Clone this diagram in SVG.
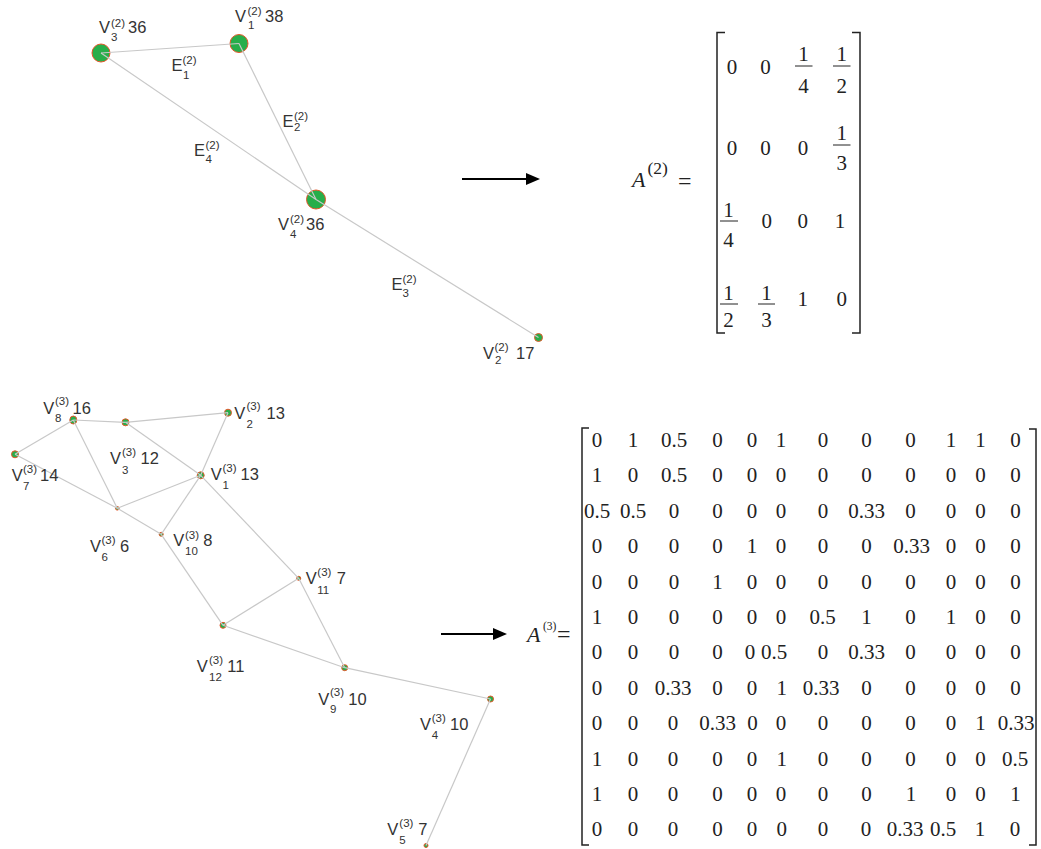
<svg xmlns="http://www.w3.org/2000/svg" width="1041" height="849" viewBox="0 0 1041 849">
<style>
.lb{font-family:"Liberation Sans",Arial,sans-serif;font-size:16.5px;fill:#333}
.s{font-size:11.5px}
.ed{stroke:#c8c8c8;stroke-width:1.2;fill:none}
.nd{fill:#27ae4a;stroke:#e3572a;stroke-width:1}
.mx{font-family:"Liberation Serif","Times New Roman",serif;font-size:21px;fill:#222;text-anchor:middle}
.tm{font-family:"Liberation Serif","Times New Roman",serif;font-size:21px;fill:#222;text-anchor:middle}
.br{stroke:#222;stroke-width:1.5;fill:none}
.bar{stroke:#222;stroke-width:1}
.ar{stroke:#000;stroke-width:2}
.ser{font-family:"Liberation Serif","Times New Roman",serif;fill:#222}
</style>
<defs>
<marker id="ah" markerWidth="14" markerHeight="12" refX="0" refY="6" orient="auto" markerUnits="userSpaceOnUse"><path d="M0,0 L14,6 L0,12 Z" fill="#000"/></marker>
</defs>
<rect width="1041" height="849" fill="#fff"/>

<!-- top graph nodes -->
<g id="t-v3"><circle class="nd" cx="101" cy="53" r="9"/></g>
<g id="t-v1"><circle class="nd" cx="239" cy="43.5" r="9"/></g>
<g id="t-v4"><circle class="nd" cx="316" cy="199.5" r="9.5"/></g>
<g id="t-v2"><circle class="nd" cx="538.5" cy="337.5" r="4"/></g>

<g id="top-edges">
<line class="ed" x1="101" y1="53" x2="239" y2="43.5"/>
<line class="ed" x1="239" y1="43.5" x2="316" y2="199.5"/>
<line class="ed" x1="101" y1="53" x2="316" y2="199.5"/>
<line class="ed" x1="316" y1="199.5" x2="538.5" y2="337.5"/>
</g>

<g id="top-labels">
<text class="lb"><tspan x="99" y="33">V</tspan><tspan class="s" x="111" y="27">(2)</tspan><tspan class="s" x="111" y="41">3</tspan><tspan x="128" y="33">36</tspan></text>
<text class="lb"><tspan x="235" y="21.5">V</tspan><tspan class="s" x="247.5" y="15">(2)</tspan><tspan class="s" x="248" y="28.5">1</tspan><tspan x="265" y="21.5">38</tspan></text>
<text class="lb"><tspan x="171.5" y="71">E</tspan><tspan class="s" x="182.5" y="64">(2)</tspan><tspan class="s" x="183" y="78.5">1</tspan></text>
<text class="lb"><tspan x="282.5" y="126.5">E</tspan><tspan class="s" x="294" y="119.5">(2)</tspan><tspan class="s" x="294" y="131">2</tspan></text>
<text class="lb"><tspan x="194" y="156">E</tspan><tspan class="s" x="205.5" y="148.5">(2)</tspan><tspan class="s" x="205.5" y="163">4</tspan></text>
<text class="lb"><tspan x="278" y="229.5">V</tspan><tspan class="s" x="290" y="222.5">(2)</tspan><tspan class="s" x="290" y="237.5">4</tspan><tspan x="306" y="229.5">36</tspan></text>
<text class="lb"><tspan x="391.5" y="290">E</tspan><tspan class="s" x="402.5" y="283">(2)</tspan><tspan class="s" x="402.5" y="297">3</tspan></text>
<text class="lb"><tspan x="483" y="358.5">V</tspan><tspan class="s" x="494.5" y="350.5">(2)</tspan><tspan class="s" x="495" y="363.5">2</tspan><tspan x="516" y="358.5">17</tspan></text>
</g>

<!-- arrows -->
<g id="arrows">
<line class="ar" x1="462" y1="179" x2="526" y2="179" marker-end="url(#ah)"/>
<line class="ar" x1="441" y1="634" x2="493" y2="634" marker-end="url(#ah)"/>
</g>

<!-- top matrix -->
<g id="matrix-a2">
<text class="ser" font-size="22" font-style="italic" x="632" y="187">A</text>
<text class="ser" font-size="17.5" x="647.5" y="174">(2)</text>
<text class="ser" font-size="24" x="678" y="189">=</text>
<path class="br" d="M725,32.5 H717 V333 H725"/>
<path class="br" d="M852,32.5 H860 V333 H852"/>
<text class="tm"><tspan x="732" y="73.5">0</tspan><tspan x="765.5" y="73.5">0</tspan><tspan x="803.5" y="60.5">1</tspan><tspan x="803.5" y="93">4</tspan><tspan x="841.7" y="60.5">1</tspan><tspan x="841.7" y="93">2</tspan></text>
<line class="bar" x1="795" y1="66" x2="812.5" y2="66"/>
<line class="bar" x1="833" y1="66" x2="850.5" y2="66"/>
<text class="tm"><tspan x="732" y="155">0</tspan><tspan x="765.5" y="155">0</tspan><tspan x="803" y="155">0</tspan><tspan x="841.7" y="140">1</tspan><tspan x="841.7" y="170">3</tspan></text>
<line class="bar" x1="833" y1="145" x2="850.5" y2="145"/>
<text class="tm"><tspan x="728.5" y="216.5">1</tspan><tspan x="728.5" y="247">4</tspan><tspan x="766.7" y="228.3">0</tspan><tspan x="802.7" y="228.3">0</tspan><tspan x="840" y="228.3">1</tspan></text>
<line class="bar" x1="720" y1="221" x2="738" y2="221"/>
<text class="tm"><tspan x="728.5" y="299.5">1</tspan><tspan x="728.5" y="327">2</tspan><tspan x="766.5" y="299.5">1</tspan><tspan x="766.5" y="327">3</tspan><tspan x="802.7" y="305.5">1</tspan><tspan x="841.7" y="305.5">0</tspan></text>
<line class="bar" x1="720" y1="304" x2="738" y2="304"/>
<line class="bar" x1="758" y1="304" x2="775" y2="304"/>
</g>

<!-- bottom graph nodes -->
<g id="b-v8"><ellipse class="nd" cx="73.3" cy="420" rx="3.5" ry="4"/></g>
<g id="b-v3"><circle class="nd" cx="125.5" cy="422.3" r="3.5"/></g>
<g id="b-v2"><circle class="nd" cx="228" cy="412.7" r="3.5"/></g>
<g id="b-v7"><circle class="nd" cx="15" cy="454.3" r="3.5"/></g>
<g id="b-v1"><circle class="nd" cx="200.7" cy="475.3" r="3.5"/></g>
<g id="b-v6"><circle class="nd" cx="117.3" cy="508.3" r="1.8"/></g>
<g id="b-v10"><circle class="nd" cx="161.2" cy="534.3" r="2"/></g>
<g id="b-v11"><circle class="nd" cx="298.7" cy="578.3" r="2"/></g>
<g id="b-v12"><circle class="nd" cx="223" cy="625.3" r="3"/></g>
<g id="b-v9"><circle class="nd" cx="344.7" cy="667.7" r="3"/></g>
<g id="b-v4"><circle class="nd" cx="490.5" cy="699" r="3"/></g>
<g id="b-v5"><circle class="nd" cx="426" cy="845.5" r="2"/></g>

<g id="bottom-edges">
<line class="ed" x1="73.3" y1="420" x2="125.5" y2="422.3"/>
<line class="ed" x1="125.5" y1="422.3" x2="228" y2="412.7"/>
<line class="ed" x1="73.3" y1="420" x2="15" y2="454.3"/>
<line class="ed" x1="73.3" y1="420" x2="117.3" y2="508.3"/>
<line class="ed" x1="125.5" y1="422.3" x2="200.7" y2="475.3"/>
<line class="ed" x1="228" y1="412.7" x2="200.7" y2="475.3"/>
<line class="ed" x1="15" y1="454.3" x2="117.3" y2="508.3"/>
<line class="ed" x1="117.3" y1="508.3" x2="161.2" y2="534.3"/>
<line class="ed" x1="117.3" y1="508.3" x2="200.7" y2="475.3"/>
<line class="ed" x1="161.2" y1="534.3" x2="200.7" y2="475.3"/>
<line class="ed" x1="200.7" y1="475.3" x2="298.7" y2="578.3"/>
<line class="ed" x1="161.2" y1="534.3" x2="223" y2="625.3"/>
<line class="ed" x1="223" y1="625.3" x2="298.7" y2="578.3"/>
<line class="ed" x1="298.7" y1="578.3" x2="344.7" y2="667.7"/>
<line class="ed" x1="223" y1="625.3" x2="344.7" y2="667.7"/>
<line class="ed" x1="344.7" y1="667.7" x2="490.5" y2="699"/>
<line class="ed" x1="490.5" y1="699" x2="426" y2="845.5"/>
</g>

<g id="bottom-labels">
<text class="lb"><tspan x="43.3" y="413.5">V</tspan><tspan class="s" x="55" y="405">(3)</tspan><tspan class="s" x="55" y="422">8</tspan><tspan x="72.5" y="413.5">16</tspan></text>
<text class="lb"><tspan x="234.3" y="418.5">V</tspan><tspan class="s" x="246.5" y="410">(3)</tspan><tspan class="s" x="246.5" y="427.5">2</tspan><tspan x="266.5" y="418.5">13</tspan></text>
<text class="lb"><tspan x="110" y="464">V</tspan><tspan class="s" x="122" y="456">(3)</tspan><tspan class="s" x="122" y="473.5">3</tspan><tspan x="140.5" y="464">12</tspan></text>
<text class="lb"><tspan x="11.7" y="481">V</tspan><tspan class="s" x="23" y="473">(3)</tspan><tspan class="s" x="23" y="490">7</tspan><tspan x="40" y="481">14</tspan></text>
<text class="lb"><tspan x="210.7" y="480">V</tspan><tspan class="s" x="222.5" y="472">(3)</tspan><tspan class="s" x="222.5" y="488.5">1</tspan><tspan x="240.5" y="480">13</tspan></text>
<text class="lb"><tspan x="90" y="552">V</tspan><tspan class="s" x="101.5" y="543.5">(3)</tspan><tspan class="s" x="101.5" y="561">6</tspan><tspan x="120" y="552">6</tspan></text>
<text class="lb"><tspan x="173.3" y="546">V</tspan><tspan class="s" x="185" y="538.5">(3)</tspan><tspan class="s" x="185" y="555">10</tspan><tspan x="203.3" y="546">8</tspan></text>
<text class="lb"><tspan x="305.7" y="584">V</tspan><tspan class="s" x="317.3" y="576">(3)</tspan><tspan class="s" x="317.3" y="593.5">11</tspan><tspan x="336.7" y="584">7</tspan></text>
<text class="lb"><tspan x="196.7" y="672">V</tspan><tspan class="s" x="209" y="663.5">(3)</tspan><tspan class="s" x="209" y="681">12</tspan><tspan x="227.3" y="672">11</tspan></text>
<text class="lb"><tspan x="318.3" y="704.5">V</tspan><tspan class="s" x="330" y="696">(3)</tspan><tspan class="s" x="330" y="713">9</tspan><tspan x="348.3" y="704.5">10</tspan></text>
<text class="lb"><tspan x="420" y="730">V</tspan><tspan class="s" x="431.7" y="722">(3)</tspan><tspan class="s" x="431.7" y="738.5">4</tspan><tspan x="450" y="730">10</tspan></text>
<text class="lb"><tspan x="387.3" y="835">V</tspan><tspan class="s" x="399.3" y="827">(3)</tspan><tspan class="s" x="399.3" y="843.5">5</tspan><tspan x="418.3" y="835">7</tspan></text>
</g>

<!-- bottom matrix -->
<g id="matrix-a3">
<text class="ser" font-size="22" font-style="italic" x="527" y="642">A</text>
<text class="ser" font-size="11.5" x="543" y="630">(3)</text>
<text class="ser" font-size="24" x="557" y="642">=</text>
<path class="br" d="M589,428 H582 V845 H589"/>
<path class="br" d="M1029,429 H1036 V845 H1029"/>
<text class="mx"><tspan x="597" y="447">0</tspan><tspan x="633" y="447">1</tspan><tspan x="674" y="447">0.5</tspan><tspan x="717.5" y="447">0</tspan><tspan x="752" y="447">0</tspan><tspan x="781" y="447">1</tspan><tspan x="823" y="447">0</tspan><tspan x="866.5" y="447">0</tspan><tspan x="910.5" y="447">0</tspan><tspan x="951" y="447">1</tspan><tspan x="980.5" y="447">1</tspan><tspan x="1015.5" y="447">0</tspan></text>
<text class="mx"><tspan x="597" y="482.4">1</tspan><tspan x="633" y="482.4">0</tspan><tspan x="674" y="482.4">0.5</tspan><tspan x="717.5" y="482.4">0</tspan><tspan x="752" y="482.4">0</tspan><tspan x="781" y="482.4">0</tspan><tspan x="823" y="482.4">0</tspan><tspan x="866.5" y="482.4">0</tspan><tspan x="910.5" y="482.4">0</tspan><tspan x="951" y="482.4">0</tspan><tspan x="980.5" y="482.4">0</tspan><tspan x="1015.5" y="482.4">0</tspan></text>
<text class="mx"><tspan x="597" y="517.8">0.5</tspan><tspan x="633" y="517.8">0.5</tspan><tspan x="674" y="517.8">0</tspan><tspan x="717.5" y="517.8">0</tspan><tspan x="752" y="517.8">0</tspan><tspan x="781" y="517.8">0</tspan><tspan x="823" y="517.8">0</tspan><tspan x="866.7" y="517.8">0.33</tspan><tspan x="910.5" y="517.8">0</tspan><tspan x="951" y="517.8">0</tspan><tspan x="980.5" y="517.8">0</tspan><tspan x="1015.5" y="517.8">0</tspan></text>
<text class="mx"><tspan x="597" y="553.2">0</tspan><tspan x="633" y="553.2">0</tspan><tspan x="674" y="553.2">0</tspan><tspan x="717.5" y="553.2">0</tspan><tspan x="752" y="553.2">1</tspan><tspan x="781" y="553.2">0</tspan><tspan x="823" y="553.2">0</tspan><tspan x="866.5" y="553.2">0</tspan><tspan x="911.7" y="553.2">0.33</tspan><tspan x="951" y="553.2">0</tspan><tspan x="980.5" y="553.2">0</tspan><tspan x="1015.5" y="553.2">0</tspan></text>
<text class="mx"><tspan x="597" y="588.6">0</tspan><tspan x="633" y="588.6">0</tspan><tspan x="674" y="588.6">0</tspan><tspan x="717.5" y="588.6">1</tspan><tspan x="752" y="588.6">0</tspan><tspan x="781" y="588.6">0</tspan><tspan x="823" y="588.6">0</tspan><tspan x="866.5" y="588.6">0</tspan><tspan x="910.5" y="588.6">0</tspan><tspan x="951" y="588.6">0</tspan><tspan x="980.5" y="588.6">0</tspan><tspan x="1015.5" y="588.6">0</tspan></text>
<text class="mx"><tspan x="597" y="624">1</tspan><tspan x="633" y="624">0</tspan><tspan x="674" y="624">0</tspan><tspan x="717.5" y="624">0</tspan><tspan x="752" y="624">0</tspan><tspan x="781" y="624">0</tspan><tspan x="822.7" y="624">0.5</tspan><tspan x="866.5" y="624">1</tspan><tspan x="910.5" y="624">0</tspan><tspan x="951" y="624">1</tspan><tspan x="980.5" y="624">0</tspan><tspan x="1015.5" y="624">0</tspan></text>
<text class="mx"><tspan x="597" y="659.4">0</tspan><tspan x="633" y="659.4">0</tspan><tspan x="674" y="659.4">0</tspan><tspan x="717.5" y="659.4">0</tspan><tspan x="750" y="659.4">0</tspan><tspan x="774" y="659.4">0.5</tspan><tspan x="823" y="659.4">0</tspan><tspan x="866.7" y="659.4">0.33</tspan><tspan x="910.5" y="659.4">0</tspan><tspan x="951" y="659.4">0</tspan><tspan x="980.5" y="659.4">0</tspan><tspan x="1015.5" y="659.4">0</tspan></text>
<text class="mx"><tspan x="597" y="694.8">0</tspan><tspan x="633" y="694.8">0</tspan><tspan x="673" y="694.8">0.33</tspan><tspan x="717.5" y="694.8">0</tspan><tspan x="752" y="694.8">0</tspan><tspan x="781.7" y="694.8">1</tspan><tspan x="821" y="694.8">0.33</tspan><tspan x="866.5" y="694.8">0</tspan><tspan x="910.5" y="694.8">0</tspan><tspan x="951" y="694.8">0</tspan><tspan x="980.5" y="694.8">0</tspan><tspan x="1015.5" y="694.8">0</tspan></text>
<text class="mx"><tspan x="597" y="730.2">0</tspan><tspan x="633" y="730.2">0</tspan><tspan x="673" y="730.2">0</tspan><tspan x="717.7" y="730.2">0.33</tspan><tspan x="752.5" y="730.2">0</tspan><tspan x="781" y="730.2">0</tspan><tspan x="823" y="730.2">0</tspan><tspan x="866.5" y="730.2">0</tspan><tspan x="910.5" y="730.2">0</tspan><tspan x="951" y="730.2">0</tspan><tspan x="980.5" y="730.2">1</tspan><tspan x="1016" y="730.2">0.33</tspan></text>
<text class="mx"><tspan x="597" y="765.6">1</tspan><tspan x="633" y="765.6">0</tspan><tspan x="673" y="765.6">0</tspan><tspan x="717.5" y="765.6">0</tspan><tspan x="752" y="765.6">0</tspan><tspan x="781.7" y="765.6">1</tspan><tspan x="823" y="765.6">0</tspan><tspan x="866.5" y="765.6">0</tspan><tspan x="910.5" y="765.6">0</tspan><tspan x="951" y="765.6">0</tspan><tspan x="980.5" y="765.6">0</tspan><tspan x="1015" y="765.6">0.5</tspan></text>
<text class="mx"><tspan x="597" y="801">1</tspan><tspan x="633" y="801">0</tspan><tspan x="673" y="801">0</tspan><tspan x="717.5" y="801">0</tspan><tspan x="752" y="801">0</tspan><tspan x="781" y="801">0</tspan><tspan x="823" y="801">0</tspan><tspan x="866.5" y="801">0</tspan><tspan x="911" y="801">1</tspan><tspan x="951" y="801">0</tspan><tspan x="980.5" y="801">0</tspan><tspan x="1015.5" y="801">1</tspan></text>
<text class="mx"><tspan x="597" y="836.4">0</tspan><tspan x="633" y="836.4">0</tspan><tspan x="673" y="836.4">0</tspan><tspan x="717.5" y="836.4">0</tspan><tspan x="752" y="836.4">0</tspan><tspan x="781.7" y="836.4">0</tspan><tspan x="823" y="836.4">0</tspan><tspan x="866" y="836.4">0</tspan><tspan x="905" y="836.4">0.33</tspan><tspan x="943" y="836.4">0.5</tspan><tspan x="980" y="836.4">1</tspan><tspan x="1015" y="836.4">0</tspan></text>
</g>
</svg>
